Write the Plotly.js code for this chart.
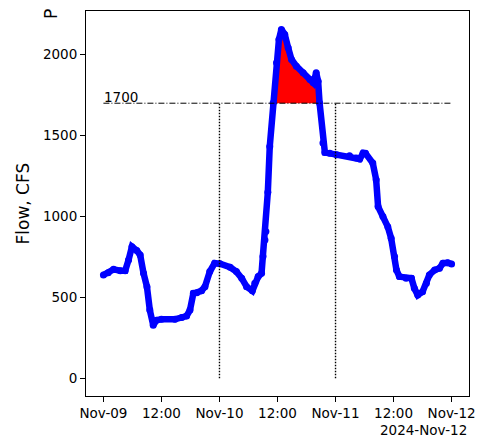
<!DOCTYPE html>
<html>
<head>
<meta charset="utf-8">
<script src="https://cdn.plot.ly/plotly-3.0.1.min.js"></script>
<style>html,body{margin:0;padding:0;background:#fff;}#chart{width:481px;height:440px;}</style>
</head>
<body>
<div id="chart"></div>
<script>
// Hours since 2024-11-09 00:00 and flow (CFS)
const hours = [0, 1.0, 2.1, 3.5, 4.5, 5.2, 5.9, 6.9, 7.6, 8.3, 9.0, 9.6, 10.3, 11.0, 12.0, 14.8, 16.2, 17.2, 17.9, 18.6, 19.3, 20.3, 21.0, 22.0, 23.0, 24.1, 26.2, 27.5, 28.6, 29.6, 30.8, 31.3, 32.0, 32.7, 33.0, 33.4, 33.6, 34.0, 34.4, 35.1, 35.8, 36.3, 36.8, 37.5, 38.2, 38.9, 39.9, 41.3, 42.7, 43.4, 44.0, 44.4, 44.7, 45.4, 45.8, 46.8, 48.2, 50.9, 52.3, 53.0, 53.7, 54.2, 55.7, 56.4, 56.8, 57.8, 58.8, 59.5, 60.2, 60.6, 61.2, 62.6, 63.7, 64.3, 65.0, 66.0, 66.8, 67.4, 68.5, 69.5, 70.2, 71.2, 72.0];
const flow = [638, 652, 673, 665, 665, 731, 813, 789, 762, 649, 566, 421, 328, 359, 364, 364, 376, 384, 421, 525, 529, 541, 566, 659, 711, 708, 686, 659, 618, 566, 540, 587, 628, 649, 752, 855, 907, 1150, 1433, 1702, 1950, 2094, 2156, 2125, 2043, 1970, 1929, 1888, 1846, 1826, 1888, 1836, 1702, 1454, 1395, 1390, 1382, 1375, 1361, 1355, 1392, 1390, 1330, 1227, 1061, 999, 937, 865, 752, 669, 628, 618, 618, 556, 514, 535, 587, 638, 669, 680, 711, 714, 706];

const threshold = 1700;
const thresholdLabel = "1700";
const markerDates = ["2024-11-10 00:00", "2024-11-11 00:00"];
const lineStart = "2024-11-09 00:00";
const lineEnd = "2024-11-12 00:00";

const xTickVals = ["2024-11-09 00:00", "2024-11-09 12:00", "2024-11-10 00:00", "2024-11-10 12:00", "2024-11-11 00:00", "2024-11-11 12:00", "2024-11-12 00:00"];
const xTickText = ["Nov-09", "12:00", "Nov-10", "12:00", "Nov-11", "12:00", "Nov-12"];
const yTickVals = [0, 500, 1000, 1500, 2000];
const yTickText = ["0", "500", "1000", "1500", "2000"];
const yTitle = "Flow, CFS";
const dateLabel = "2024-Nov-12";
const cornerLabel = "P";

function toDate(h) {
  const d = new Date(Date.UTC(2024, 10, 9) + h * 3600000);
  const p = n => String(n).padStart(2, "0");
  return d.getUTCFullYear() + "-" + p(d.getUTCMonth() + 1) + "-" + p(d.getUTCDate()) + " " +
    p(d.getUTCHours()) + ":" + p(d.getUTCMinutes()) + ":" + p(d.getUTCSeconds());
}
const xDates = hours.map(toDate);

// fill polygon above threshold
const fx = [], fy = [];
for (let i = 0; i < flow.length; i++) {
  if (i > 0) {
    const a = flow[i - 1], b = flow[i];
    if ((a < threshold) !== (b < threshold)) {
      const t = (threshold - a) / (b - a);
      fx.push(toDate(hours[i - 1] + t * (hours[i] - hours[i - 1])));
      fy.push(threshold);
    }
  }
  if (flow[i] >= threshold) { fx.push(xDates[i]); fy.push(flow[i]); }
}

const font = "DejaVu Sans, sans-serif";
const traces = [
  {x: fx, y: fy, type: "scatter", mode: "lines", fill: "toself", fillcolor: "#ff0000",
   line: {width: 0, color: "#ff0000"}, hoverinfo: "skip", showlegend: false},
  {x: xDates, y: flow, type: "scatter", mode: "lines+markers",
   line: {color: "#0000ff", width: 6.5}, marker: {color: "#0000ff", size: 7}, showlegend: false}
];

const shapes = [
  {type: "line", xref: "x", yref: "y", x0: lineStart, x1: lineEnd, y0: threshold, y1: threshold,
   line: {color: "black", width: 1, dash: "6px,2px,1px,2px"}},
].concat(markerDates.map(d => ({
  type: "line", xref: "x", yref: "y", x0: d, x1: d, y0: 0, y1: threshold,
  line: {color: "black", width: 1.4, dash: "1.4px,1.6px"}
})));

const axisCommon = {
  showline: true, mirror: true, linecolor: "black", linewidth: 1,
  ticks: "outside", ticklen: 5, tickwidth: 1, tickcolor: "black",
  showgrid: false, zeroline: false,
  tickfont: {family: font, size: 13.5, color: "black"}
};

const layout = {
  width: 481, height: 440,
  margin: {l: 86, r: 12, t: 11, b: 44},
  paper_bgcolor: "white", plot_bgcolor: "white",
  showlegend: false,
  xaxis: Object.assign({}, axisCommon, {
    type: "date", range: ["2024-11-08 20:24", "2024-11-12 03:36"],
    tickmode: "array", tickvals: xTickVals, ticktext: xTickText
  }),
  yaxis: Object.assign({}, axisCommon, {
    range: [-110, 2270], tickmode: "array", tickvals: yTickVals, ticktext: yTickText
  }),
  shapes: shapes,
  annotations: [
    {x: lineStart, y: threshold, xref: "x", yref: "y", text: thresholdLabel, showarrow: false,
     xanchor: "left", yanchor: "bottom", borderpad: 0, yshift: -3,
     font: {family: font, size: 13.5, color: "black"}},
    {x: 0, y: 0.5, xref: "paper", yref: "paper", text: yTitle, showarrow: false, textangle: -90,
     xanchor: "center", yanchor: "middle", xshift: -64,
     font: {family: font, size: 17, color: "black"}},
    {x: 1, y: 0, xref: "paper", yref: "paper", text: dateLabel, showarrow: false,
     xanchor: "right", yanchor: "middle", yshift: -34,
     font: {family: font, size: 13.5, color: "black"}},
    {x: 0, y: 1, xref: "paper", yref: "paper", text: cornerLabel, showarrow: false, textangle: -90,
     xanchor: "center", yanchor: "middle", xshift: -35, yshift: -3,
     font: {family: font, size: 17, color: "black"}}
  ]
};

Plotly.newPlot("chart", traces, layout, {displayModeBar: false, staticPlot: true});
</script>
</body>
</html>
